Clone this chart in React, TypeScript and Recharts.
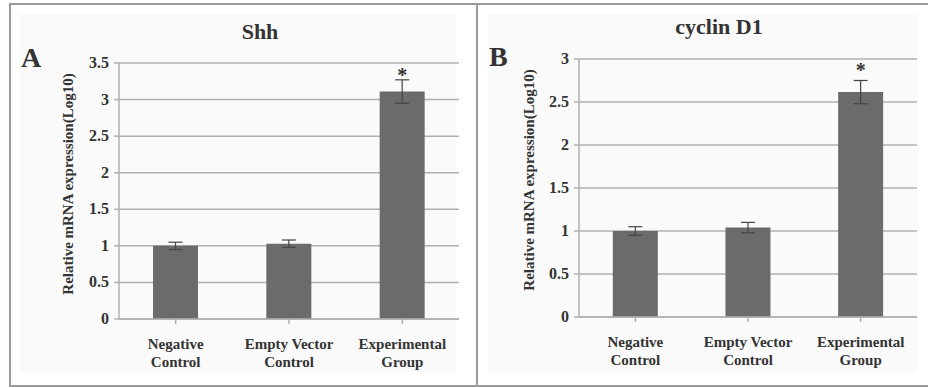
import { BarChart, Bar, XAxis, YAxis, CartesianGrid, ErrorBar, LabelList } from "recharts";

const groups = ["Negative Control", "Empty Vector Control", "Experimental Group"];
const shhValues = [1.0, 1.03, 3.11];
const shhErrors = [0.05, 0.05, 0.16];
const cyclinValues = [1.0, 1.04, 2.615];
const cyclinErrors = [0.05, 0.06, 0.135];
const marks = ["", "", "*"];
const shhTicks = [0, 0.5, 1, 1.5, 2, 2.5, 3, 3.5];
const cyclinTicks = [0, 0.5, 1, 1.5, 2, 2.5, 3];

const font = "'Liberation Serif', 'Times New Roman', serif";
const barColor = "#6b6b6b";
const gridColor = "#b0b0b0";

function buildRows(values: number[], errors: number[]) {
    return groups.map((name, i) => ({ name, value: values[i], err: errors[i], mark: marks[i] }));
}

function CategoryTick({ x, y, payload }: any) {
    const words = String(payload.value).split(" ");
    const first = words.length > 2 ? words.slice(0, 2).join(" ") : words[0];
    const second = words.length > 2 ? words.slice(2).join(" ") : words.slice(1).join(" ");
    return (
        <g transform={`translate(${x},${y})`}>
            <text textAnchor="middle" fontFamily={font} fontWeight="bold" fontSize={15} fill="#333">
                <tspan x={0} y={23}>{first}</tspan>
                <tspan x={0} y={41}>{second}</tspan>
            </text>
        </g>
    );
}

function ValueTick({ x, y, payload }: any) {
    return (
        <text x={x - 3} y={y + 5} textAnchor="end" fontFamily={font} fontWeight="bold" fontSize={16} fill="#333">
            {payload.value}
        </text>
    );
}

interface PanelProps {
    title: string;
    letter: string;
    values: number[];
    errors: number[];
    ticks: number[];
    max: number;
    left: number;
    margin: { top: number; right: number; bottom: number; left: number };
    axisWidth: number;
    axisHeight: number;
    starOffset: number;
    titleX: number;
    titleY: number;
    letterX: number;
    letterY: number;
    labelX: number;
    labelY: number;
}

function Panel(p: PanelProps) {
    const rows = buildRows(p.values, p.errors);
    return (
        <div style={{ position: "absolute", left: p.left, top: 0, width: 464, height: 388 }}>
            <BarChart width={464} height={388} data={rows} margin={p.margin} barCategoryGap="30%">
                <CartesianGrid vertical={false} stroke={gridColor} strokeWidth={1.5} />
                <XAxis
                    dataKey="name"
                    height={p.axisHeight}
                    interval={0}
                    tick={<CategoryTick />}
                    axisLine={{ stroke: gridColor, strokeWidth: 1.5 }}
                    tickLine={{ stroke: gridColor, strokeWidth: 1.5 }}
                    tickSize={5}
                />
                <YAxis
                    width={p.axisWidth}
                    domain={[0, p.max]}
                    ticks={p.ticks}
                    interval={0}
                    allowDataOverflow
                    axisLine={{ stroke: gridColor, strokeWidth: 1.5 }}
                    tickLine={{ stroke: gridColor, strokeWidth: 1.5 }}
                    tickSize={5}
                    tick={<ValueTick />}
                />
                <Bar dataKey="value" fill={barColor} isAnimationActive={false}>
                    <ErrorBar dataKey="err" width={7} stroke="#444" strokeWidth={1.2} />
                    <LabelList
                        dataKey="mark"
                        position="top"
                        offset={p.starOffset}
                        style={{ fontFamily: font, fontWeight: "bold", fontSize: 20, fill: "#333" }}
                    />
                </Bar>
            </BarChart>
            <div
                style={{
                    position: "absolute",
                    left: p.titleX - 100,
                    top: p.titleY - 14,
                    width: 200,
                    textAlign: "center",
                    fontFamily: font,
                    fontWeight: "bold",
                    fontSize: 22,
                    lineHeight: "28px",
                    color: "#333",
                }}
            >
                {p.title}
            </div>
            <div
                style={{
                    position: "absolute",
                    left: p.letterX,
                    top: p.letterY,
                    fontFamily: font,
                    fontWeight: "bold",
                    fontSize: 28,
                    lineHeight: "28px",
                    color: "#333",
                }}
            >
                {p.letter}
            </div>
            <div
                style={{
                    position: "absolute",
                    left: p.labelX - 150,
                    top: p.labelY - 9,
                    width: 300,
                    textAlign: "center",
                    transform: "rotate(-90deg)",
                    fontFamily: font,
                    fontWeight: "bold",
                    fontSize: 15,
                    lineHeight: "18px",
                    color: "#333",
                    whiteSpace: "nowrap",
                }}
            >
                Relative mRNA expression(Log10)
            </div>
        </div>
    );
}

export default function App() {
    return (
        <div style={{ position: "absolute", left: 0, top: 0, width: 928, height: 388, background: "#fff", overflow: "hidden" }}>
            <div style={{ position: "absolute", left: 20, top: 14, width: 436, height: 358, background: "#fafafa" }} />
            <div style={{ position: "absolute", left: 488, top: 14, width: 430, height: 358, background: "#fafafa" }} />
            <Panel
                title="Shh"
                letter="A"
                values={shhValues}
                errors={shhErrors}
                ticks={shhTicks}
                max={3.5}
                left={0}
                margin={{ top: 63, right: 5, bottom: 0, left: 0 }}
                axisWidth={119}
                axisHeight={69}
                starOffset={10}
                titleX={260}
                titleY={32}
                letterX={21}
                letterY={44}
                labelX={68}
                labelY={184}
            />
            <Panel
                title="cyclin D1"
                letter="B"
                values={cyclinValues}
                errors={cyclinErrors}
                ticks={cyclinTicks}
                max={3}
                left={464}
                margin={{ top: 59, right: 11, bottom: 0, left: 0 }}
                axisWidth={115}
                axisHeight={71}
                starOffset={15}
                titleX={255}
                titleY={27}
                letterX={25}
                letterY={43}
                labelX={65}
                labelY={180}
            />
            <div style={{ position: "absolute", left: 9, top: 3, width: 919, height: 2, background: "#9a9a9a" }} />
            <div style={{ position: "absolute", left: 9, top: 385, width: 919, height: 2, background: "#9a9a9a" }} />
            <div style={{ position: "absolute", left: 9, top: 3, width: 2, height: 384, background: "#9a9a9a" }} />
            <div style={{ position: "absolute", left: 476, top: 3, width: 2, height: 384, background: "#9a9a9a" }} />
        </div>
    );
}
